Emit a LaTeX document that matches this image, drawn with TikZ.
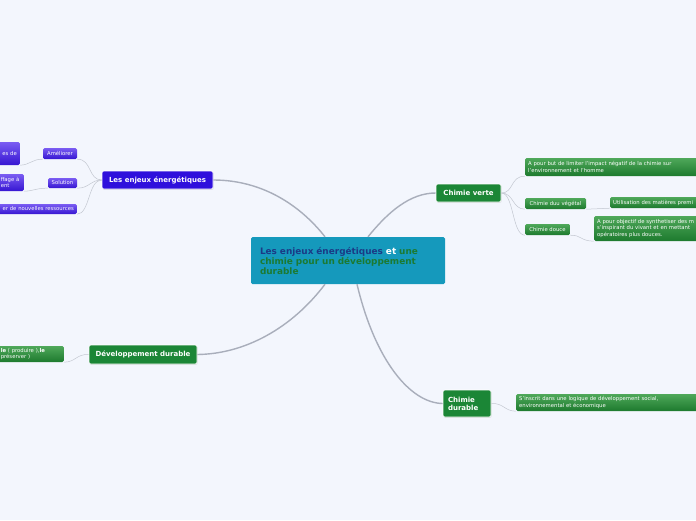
\documentclass[tikz,border=0pt]{standalone}
\usepackage{fontspec}
\setmainfont{DejaVu Sans}
\usetikzlibrary{shadows}
\definecolor{pagebg}{HTML}{F3F6FD}
\definecolor{centerfill}{HTML}{1599BC}
\definecolor{deepblue}{HTML}{1B3A86}
\definecolor{deepgreen}{HTML}{1C7A32}
\definecolor{enjeuxblue}{HTML}{2F10DC}
\definecolor{topicgreen}{HTML}{1B8636}
\definecolor{leafgreentop}{HTML}{4FA85A}
\definecolor{leafgreenbot}{HTML}{1D7A2E}
\definecolor{leafbluetop}{HTML}{7A5CF2}
\definecolor{leafbluebot}{HTML}{3616D2}
\definecolor{branchgray}{HTML}{A9AEBB}
\definecolor{twiggray}{HTML}{C3C7D0}

\tikzset{
  topic/.style={rounded corners=2pt, draw=white, line width=0.6pt, text=white,
    font=\bfseries\fontsize{7}{8.2}\selectfont, inner sep=2pt, align=left,
    drop shadow={shadow xshift=0.6pt, shadow yshift=-0.9pt, fill=black!22}},
  bluetopic/.style={topic, fill=enjeuxblue},
  greentopic/.style={topic, fill=topicgreen},
  leaf/.style={rounded corners=1.5pt, text=white, font=\fontsize{5.3}{6.2}\selectfont,
    inner xsep=3pt, inner ysep=1.5pt},
  greenleaf/.style={leaf, top color=leafgreentop, bottom color=leafgreenbot},
  blueleaf/.style={leaf, top color=leafbluetop, bottom color=leafbluebot},
  branch/.style={draw=branchgray, line width=1.4pt},
  twig/.style={draw=twiggray, line width=0.5pt}
}

\begin{document}
\begin{tikzpicture}[x=1pt,y=-1pt]
  \clip (0,0) rectangle (696,520);
  \fill[pagebg] (0,0) rectangle (696,520);

  % centre
  \node[rounded corners=1.5pt, fill=centerfill, minimum width=194pt, minimum height=47pt,
    text width=176pt, align=left, inner sep=0pt, font=\bfseries\fontsize{8.9}{10}\selectfont]
    (centre) at (348,260.5)
    {{\color{deepblue}Les enjeux énergétiques} {\color{white}et} {\color{deepgreen}une}\\
     {\color{deepgreen}chimie pour un développement}\\
     {\color{deepgreen}durable}};

  % main topics
  \node[bluetopic, minimum width=111pt, minimum height=18pt, align=center] (enjeux) at (157.5,180) {Les enjeux énergétiques};
  \node[greentopic, minimum width=65pt, minimum height=18pt, align=center] (verte) at (468.5,193) {Chimie verte};
  \node[greentopic, minimum width=108pt, minimum height=19pt, align=center] (devdur) at (143,354.5) {Développement durable};
  \node[greentopic, minimum width=48pt, minimum height=27pt, text width=38pt] (durable) at (467,403.5) {Chimie\\durable};

  % enjeux energetiques
  \node[blueleaf, minimum width=34pt, minimum height=11pt] (ameliorer) at (60,153.5) {Améliorer};
  \node[blueleaf, anchor=east, minimum height=23pt, text width=50pt, align=right] (amelleaf) at (20,153.5) {es de};
  \node[blueleaf, minimum width=29pt, minimum height=10pt] (solution) at (62.5,183) {Solution};
  \node[blueleaf, anchor=east, minimum height=17pt, text width=20pt, align=left] (solleaf) at (24,182.5) {ffage à\\ent};
  \node[blueleaf, anchor=east, minimum height=10pt, text width=90pt, align=right] (ressources) at (77,209) {er de nouvelles ressources};

  % chimie verte
  \node[greenleaf, anchor=west, minimum height=18pt, text width=200pt, align=left] (but) at (525,167)
    {A pour but de limiter l'impact négatif de la chimie sur\\l'environnement et l'homme};
  \node[greenleaf, minimum width=61pt, minimum height=11pt] (vegetal) at (555.5,203.5) {Chimie duu végétal};
  \node[greenleaf, anchor=west, minimum height=11pt, text width=120pt, align=left] (utilisation) at (610,202.5) {Utilisation des matières premi};
  \node[greenleaf, anchor=west, minimum height=25pt, text width=140pt, align=left] (objectif) at (594,228.5)
    {A pour objectif de synthetiser des m\\s'inspirant du vivant et en mettant\\opératoires plus douces.};
  \node[greenleaf, minimum width=45pt, minimum height=11pt] (douce) at (547.5,229.5) {Chimie douce};

  % developpement durable
  \node[greenleaf, anchor=east, minimum height=16pt, text width=60pt, align=left] (devleaf) at (64,354)
    {\textbf{le} ( produire ),\textbf{le}\\ préserver )};

  % chimie durable
  \node[greenleaf, anchor=west, minimum height=17pt, text width=200pt, align=left] (inscrit) at (516,402.5)
    {S'inscrit dans une logique de développement social,\\environnemental et économique};

  % branches
  \draw[branch] ([xshift=-23pt]centre.north) .. controls (300,205) and (262,180) .. (enjeux.east);
  \draw[branch] ([xshift=20pt]centre.north) .. controls (388,212) and (410,193) .. (verte.west);
  \draw[branch] ([xshift=-23pt]centre.south) .. controls (292,328) and (245,354) .. (devdur.east);
  \draw[branch] ([xshift=9pt]centre.south) .. controls (375,360) and (410,403) .. (durable.west);

  % twigs
  \draw[twig] (enjeux.west) .. controls (88,180) and (92,159) .. (ameliorer.south east);
  \draw[twig] (ameliorer.south west) .. controls (32,159) and (30,165) .. (amelleaf.south east);
  \draw[twig] (enjeux.west) .. controls (90,180) and (90,188) .. (solution.south east);
  \draw[twig] (solution.south west) .. controls (36,188) and (34,191) .. (solleaf.south east);
  \draw[twig] (enjeux.west) .. controls (88,180) and (90,214) .. (ressources.south east);
  \draw[twig] (verte.east) .. controls (514,193) and (510,176) .. (but.south west);
  \draw[twig] (verte.east) .. controls (514,193) and (512,209) .. (vegetal.south west);
  \draw[twig] (verte.east) .. controls (514,193) and (512,235) .. (douce.south west);
  \draw[twig] (vegetal.south east) .. controls (598,209) and (598,208) .. (utilisation.south west);
  \draw[twig] (douce.south east) .. controls (582,235) and (580,241) .. (objectif.south west);
  \draw[twig] (devdur.west) .. controls (76,354) and (76,362) .. (devleaf.south east);
  \draw[twig] (durable.east) .. controls (504,403) and (504,411) .. (inscrit.south west);
\end{tikzpicture}
\end{document}
